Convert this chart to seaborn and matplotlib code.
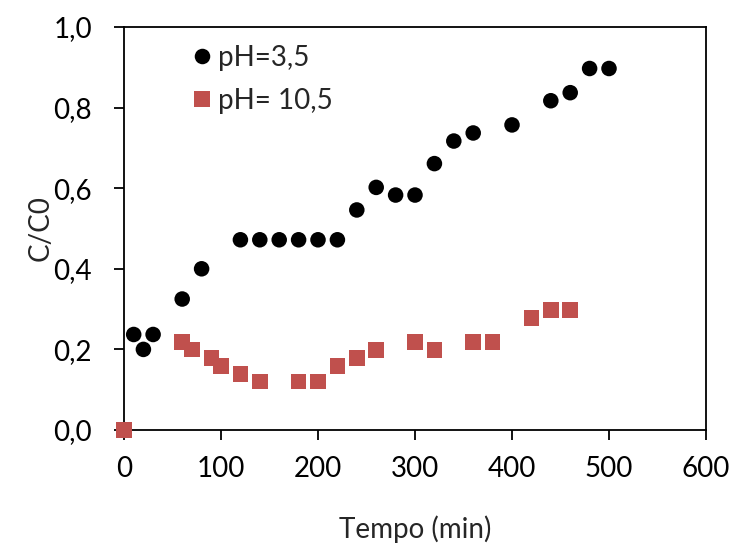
import pandas as pd
import numpy as np
import seaborn as sns
import matplotlib.pyplot as plt

# pH = 3,5
t_acid = [10, 20, 30, 60, 80, 120, 140, 160, 180, 200, 220, 240, 260, 280, 300,
          320, 340, 360, 400, 440, 460, 480, 500]
c_acid = [0.237, 0.200, 0.237, 0.325, 0.400, 0.472, 0.472, 0.472, 0.472, 0.472, 0.472,
          0.546, 0.602, 0.583, 0.583, 0.661, 0.717, 0.737, 0.757, 0.817, 0.837, 0.897, 0.897]

# pH = 10,5
t_base = [0, 60, 70, 90, 100, 120, 140, 180, 200, 220, 240, 260, 300, 320, 360, 380,
          420, 440, 460]
c_base = [0.0, 0.218, 0.200, 0.179, 0.159, 0.139, 0.120, 0.120, 0.120, 0.159, 0.179,
          0.199, 0.219, 0.199, 0.219, 0.219, 0.278, 0.298, 0.298]

labels = ["pH=3,5", "pH= 10,5"]

df = pd.concat([
    pd.DataFrame({"Tempo": t_acid, "C": c_acid, "grupo": labels[0]}),
    pd.DataFrame({"Tempo": t_base, "C": c_base, "grupo": labels[1]}),
])

sns.set_style("ticks")
plt.rcParams['font.family'] = ['Lato', 'DejaVu Sans']

fig = plt.figure(figsize=(7.32, 5.43), dpi=100)
ax = fig.add_axes([0.1694, 0.2081, 0.7951, 0.7422])

sns.scatterplot(data=df, x="Tempo", y="C", hue="grupo", style="grupo",
                palette={labels[0]: "black", labels[1]: "#C0504D"},
                markers={labels[0]: "o", labels[1]: "s"},
                s=125, linewidth=0, ax=ax, clip_on=False, zorder=3)

ax.set_xlim(0, 600)
ax.set_ylim(0, 1.0)
ax.set_xticks(np.arange(0, 601, 100))
ax.set_yticks(np.arange(0, 1.01, 0.2))
ax.set_yticklabels([f"{v:.1f}".replace(".", ",") for v in np.arange(0, 1.01, 0.2)])
ax.tick_params(axis="both", direction="out", length=7, width=1.3, labelsize=20,
               color="black", labelcolor="black")
ax.tick_params(axis="x", pad=12)
ax.tick_params(axis="y", pad=16)
for sp in ax.spines.values():
    sp.set_visible(True)
    sp.set_linewidth(1.3)
    sp.set_color("black")

ax.set_xlabel("Tempo (min)", fontsize=20, labelpad=24)
ax.set_ylabel("C/C0", fontsize=20, labelpad=0)

leg = ax.legend(loc="upper left", bbox_to_anchor=(0.044, 1.017), frameon=False,
                fontsize=20, handletextpad=-0.45, labelspacing=0.6, markerscale=1.0)

fig.savefig("out.png", dpi=100)
